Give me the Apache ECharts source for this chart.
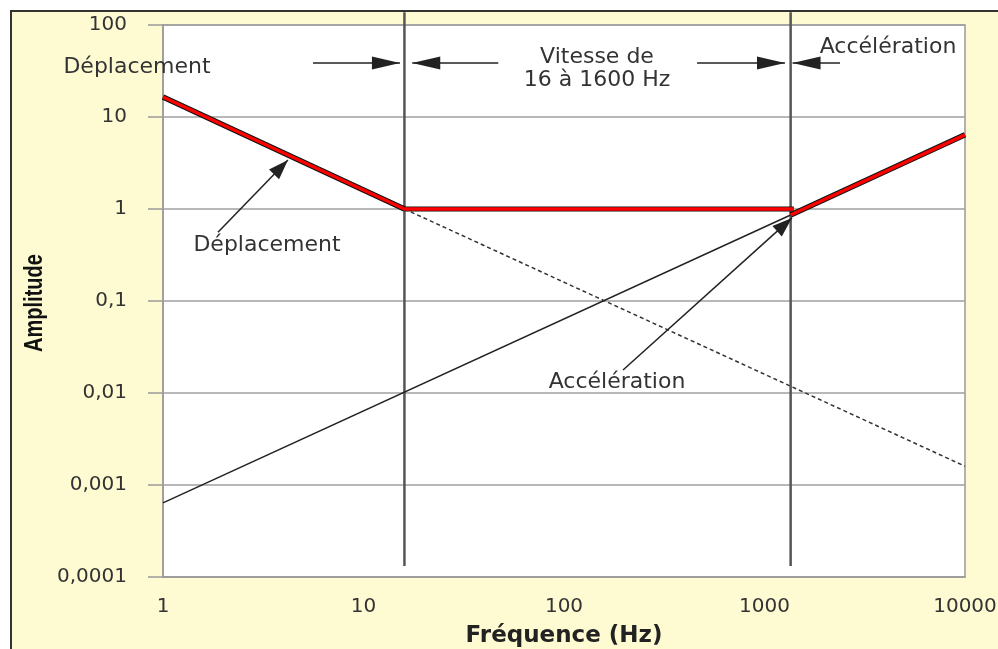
<!DOCTYPE html>
<html>
<head>
<meta charset="utf-8">
<script src="https://cdn.jsdelivr.net/npm/echarts@6/dist/echarts.min.js"></script>
<style>
  html, body { margin: 0; padding: 0; background: #ffffff; }
  #frame { position: absolute; left: 10px; top: 10px; width: 1010px; height: 700px;
           background: #FEFBD2; border: 2px solid #333; box-sizing: border-box; }
  #chart { position: absolute; left: 0; top: 0; width: 998px; height: 649px; }
</style>
</head>
<body>
<div id="frame"></div>
<div id="chart"></div>
<script>
// ---- data ----
const xTickLabels = ['1', '10', '100', '1000', '10000'];
const yTickLabels = ['0,0001', '0,001', '0,01', '0,1', '1', '10', '100'];

const displacementSolid  = [[1, 16.5], [16, 1]];
const displacementDashed = [[16, 1], [10000, 0.0016]];
const velocityPlateau    = [[16, 1], [1400, 1]];
const accelerationThin   = [[1, 0.00064], [1350, 0.86]];
const accelerationThick  = [[1350, 0.86], [10000, 6.4]];
const envelopeLow        = [[1, 16.5], [16, 1], [1400, 1]];
const envelopeHigh       = [[1350, 0.86], [10000, 6.4]];
const bandLimits         = [16, 1350];
const bandLineSpan       = [0.000132, 138];

// annotation arrows: [from, to] in data coordinates
const bandArrows = [
  [[5.6, 38.6], [15.2, 38.6]],
  [[47, 38.6], [17.5, 38.6]],
  [[461, 38.6], [1265, 38.6]],
  [[2380, 38.6], [1380, 38.6]]
];
const pointerArrows = [
  [[1.88, 0.56], [4.2, 3.41]],
  [[197, 0.0178], [1371, 0.80]]
];

const annotations = [
  { text: 'Déplacement', x: 137, y: 67 },
  { text: 'Vitesse de', x: 597, y: 57 },
  { text: '16 à 1600 Hz', x: 597, y: 80 },
  { text: 'Accélération', x: 888, y: 47 },
  { text: 'Déplacement', x: 267, y: 245 },
  { text: 'Accélération', x: 617, y: 382 }
];

// ---- chart ----
const chart = echarts.init(document.getElementById('chart'), null, { renderer: 'canvas' });
const FONT = 'DejaVu Sans';

function arrowItems(list, size) {
  return list.map(a => [
    { coord: a[0], symbol: 'none' },
    { coord: a[1], symbol: 'triangle', symbolSize: size, symbolOffset: [0, size[1] / 2] }
  ]);
}

const graphics = annotations.map(a => ({
  type: 'text', x: a.x, y: a.y, z: 100, silent: true,
  style: { text: a.text, fill: '#333', font: '22px "DejaVu Sans"', align: 'center', verticalAlign: 'middle' }
}));
graphics.push({
  type: 'text', x: 35, y: 303, rotation: Math.PI / 2, scaleX: 0.8, z: 100, silent: true,
  style: { text: 'Amplitude', fill: '#111', font: 'bold 25px "Liberation Sans"', align: 'center', verticalAlign: 'middle' }
});

const option = {
  animation: false,
  backgroundColor: 'transparent',
  grid: {
    left: 163, right: 33, top: 25, bottom: 72,
    outerBoundsMode: 'none', containLabel: false,
    show: true, backgroundColor: '#ffffff', borderColor: '#9a9a9a', borderWidth: 1.5
  },
  xAxis: {
    type: 'log', logBase: 10, min: 1, max: 10000,
    axisLine: { show: true, lineStyle: { color: '#9a9a9a', width: 1.5 } },
    axisTick: { show: false },
    splitLine: { show: false },
    minorTick: { show: false },
    axisLabel: {
      color: '#333', fontFamily: FONT, fontSize: 20, margin: 20,
      formatter: v => xTickLabels[Math.round(Math.log10(v))]
    },
    name: 'Fréquence (Hz)', nameLocation: 'middle', nameGap: 48,
    nameTextStyle: { color: '#222', fontFamily: FONT, fontWeight: 'bold', fontSize: 23 }
  },
  yAxis: {
    type: 'log', logBase: 10, min: 0.0001, max: 100,
    axisLine: { show: true, lineStyle: { color: '#9a9a9a', width: 1.5 } },
    axisTick: { show: true, inside: false, length: 15, lineStyle: { color: '#9a9a9a', width: 1.5 } },
    splitLine: { show: true, lineStyle: { color: '#a0a0a0', width: 1.5 } },
    axisLabel: {
      color: '#333', fontFamily: FONT, fontSize: 20, margin: 36,
      formatter: v => yTickLabels[Math.round(Math.log10(v)) + 4]
    }
  },
  series: [
    { type: 'line', data: [[bandLimits[0], bandLineSpan[0]], [bandLimits[0], bandLineSpan[1]]],
      clip: false, symbol: 'none', silent: true, lineStyle: { color: '#555', width: 2.5 }, z: 2 },
    { type: 'line', data: [[bandLimits[1], bandLineSpan[0]], [bandLimits[1], bandLineSpan[1]]],
      clip: false, symbol: 'none', silent: true, lineStyle: { color: '#555', width: 2.5 }, z: 2 },
    { type: 'line', data: displacementDashed, symbol: 'none', silent: true,
      lineStyle: { color: '#333', width: 1.5, type: [4, 3] }, z: 3 },
    { type: 'line', data: accelerationThin, symbol: 'none', silent: true,
      lineStyle: { color: '#222', width: 1.5 }, z: 3 },
    { type: 'line', data: displacementSolid, symbol: 'none', silent: true,
      lineStyle: { color: '#111', width: 5.5 }, z: 4 },
    { type: 'line', data: velocityPlateau, symbol: 'none', silent: true,
      lineStyle: { color: '#111', width: 5 }, z: 4 },
    { type: 'line', data: accelerationThick, symbol: 'none', silent: true,
      lineStyle: { color: '#111', width: 5.5 }, z: 4 },
    { type: 'line', data: envelopeLow, symbol: 'none', silent: true,
      lineStyle: { color: '#ff0000', width: 3.5, join: 'round' }, z: 5 },
    { type: 'line', data: envelopeHigh, symbol: 'none', silent: true,
      lineStyle: { color: '#ff0000', width: 3.5 }, z: 5 },
    { type: 'line', data: [], symbol: 'none', silent: true, z: 6,
      markLine: {
        silent: true, animation: false, label: { show: false },
        lineStyle: { color: '#222', width: 1.5, type: 'solid' },
        emphasis: { disabled: true },
        data: arrowItems(bandArrows, [13, 28])
      }
    },
    { type: 'line', data: [], symbol: 'none', silent: true, z: 6,
      markLine: {
        silent: true, animation: false, label: { show: false },
        lineStyle: { color: '#222', width: 1.5, type: 'solid' },
        emphasis: { disabled: true },
        data: arrowItems(pointerArrows, [14, 20])
      }
    }
  ],
  graphic: graphics
};
chart.setOption(option);
</script>
</body>
</html>
